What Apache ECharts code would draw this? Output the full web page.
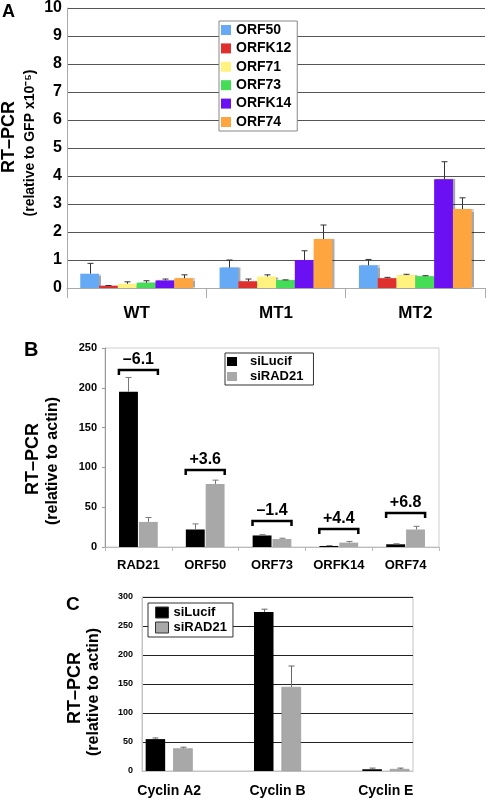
<!DOCTYPE html>
<html><head><meta charset="utf-8">
<script src="https://cdn.jsdelivr.net/npm/echarts@6/dist/echarts.min.js"></script>
<style>html,body{margin:0;padding:0;background:#fff}#c{width:486px;height:801px}</style>
</head><body><div id="c"></div>
<script>
// ---------- Panel A data ----------
const catsA = ['WT', 'MT1', 'MT2'];
const namesA = ['ORF50', 'ORFK12', 'ORF71', 'ORF73', 'ORFK14', 'ORF74'];
const colorsA = ['#66aaf6', '#e0302e', '#fff27e', '#44dd55', '#6a10f2', '#ffa53f'];
const orf50A = [0.51, 0.73, 0.81];
const orfk12A = [0.08, 0.24, 0.35];
const orf71A = [0.15, 0.41, 0.46];
const orf73A = [0.19, 0.28, 0.42];
const orfk14A = [0.27, 1.00, 3.88];
const orf74A = [0.35, 1.75, 2.82];
const orf50ErrA = [0.37, 0.27, 0.21];
const orfk12ErrA = [0.01, 0.08, 0.03];
const orf71ErrA = [0.07, 0.06, 0.03];
const orf73ErrA = [0.07, 0.01, 0.02];
const orfk14ErrA = [0.05, 0.33, 0.63];
const orf74ErrA = [0.12, 0.50, 0.40];
const yTicksA = [0, 1, 2, 3, 4, 5, 6, 7, 8, 9, 10];

// ---------- Panel B data ----------
const catsB = ['RAD21', 'ORF50', 'ORF73', 'ORFK14', 'ORF74'];
const siLucifB = [195, 22, 14.5, 1.3, 3.4];
const siLucifErrB = [18, 7, 1, 0.5, 0.7];
const siRad21B = [31.5, 79, 10, 5.5, 22];
const siRad21ErrB = [5.5, 5, 1, 1.5, 4];
const bracketYB = [222, 97, 33, 22, 43];
const bracketLabelsB = ['–6.1', '+3.6', '–1.4', '+4.4', '+6.8'];
const yTicksB = [0, 50, 100, 150, 200, 250];

// ---------- Panel C data ----------
const catsC = ['Cyclin A2', 'Cyclin B', 'Cyclin E'];
const siLucifC = [55, 274, 3];
const siLucifErrC = [2, 5, 2];
const siRad21C = [39, 145, 3.5];
const siRad21ErrC = [2, 36, 1.5];
const yTicksC = [0, 50, 100, 150, 200, 250, 300];

const valsA = [orf50A, orfk12A, orf71A, orf73A, orfk14A, orf74A];
const errsA = [orf50ErrA, orfk12ErrA, orf71ErrA, orf73ErrA, orfk14ErrA, orf74ErrA];

const FONT = "'Liberation Sans', Arial, Helvetica, sans-serif";

function errBar(n, idx, catGap, barGap, color, cap) {
  return function (params, api) {
    const cat = api.value(0), v = api.value(1), e = api.value(2);
    const base = api.coord([cat, v]);
    const top = api.coord([cat, v + e]);
    const band = api.size([1, 0])[0];
    const avail = band * (1 - catGap);
    const bw = avail / (n + (n - 1) * barGap);
    const x = Math.round(base[0] - avail / 2 + idx * bw * (1 + barGap) + bw / 2) + 0.5;
    return {
      type: 'group', children: [
        { type: 'line', shape: { x1: x, y1: base[1], x2: x, y2: top[1] }, style: { stroke: color, lineWidth: 1 } },
        { type: 'line', shape: { x1: x - cap, y1: top[1], x2: x + cap, y2: top[1] }, style: { stroke: color, lineWidth: 1 } }
      ]
    };
  };
}

const series = [];
const catGapA = 0.19, barGapA = 0;
namesA.forEach((nm, i) => {
  series.push({
    name: nm, type: 'bar', xAxisIndex: 0, yAxisIndex: 0,
    barCategoryGap: '19%', barGap: '0%',
    itemStyle: { color: colorsA[i], shadowColor: 'rgba(0,0,0,0.35)', shadowOffsetX: 2, shadowBlur: 1 },
    data: valsA[i], z: 2
  });
});
namesA.forEach((nm, i) => {
  series.push({
    name: 'errA' + i, type: 'custom', xAxisIndex: 0, yAxisIndex: 0, z: 5,
    renderItem: errBar(6, i, catGapA, barGapA, '#333', 3),
    data: catsA.map((c, k) => [k, valsA[i][k], errsA[i][k]])
  });
});

// Panel B
series.push({
  name: 'siLucif', type: 'bar', xAxisIndex: 1, yAxisIndex: 1,
  barCategoryGap: '42%', barGap: '5%', itemStyle: { color: '#000' }, data: siLucifB
});
series.push({
  name: 'siRAD21', type: 'bar', xAxisIndex: 1, yAxisIndex: 1,
  barCategoryGap: '42%', barGap: '5%', itemStyle: { color: '#a8a8a8' }, data: siRad21B
});
series.push({
  name: 'errB0', type: 'custom', xAxisIndex: 1, yAxisIndex: 1, z: 5,
  renderItem: errBar(2, 0, 0.42, 0.05, '#777', 3),
  data: catsB.map((c, k) => [k, siLucifB[k], siLucifErrB[k]])
});
series.push({
  name: 'errB1', type: 'custom', xAxisIndex: 1, yAxisIndex: 1, z: 5,
  renderItem: errBar(2, 1, 0.42, 0.05, '#777', 3),
  data: catsB.map((c, k) => [k, siRad21B[k], siRad21ErrB[k]])
});
series.push({
  name: 'bracketsB', type: 'custom', xAxisIndex: 1, yAxisIndex: 1, z: 6,
  renderItem: function (params, api) {
    const c = api.coord([api.value(0), api.value(1)]);
    const h = 19.5, y = Math.round(c[1]);
    return {
      type: 'group', children: [
        { type: 'polyline', shape: { points: [[c[0] - h, y + 5], [c[0] - h, y], [c[0] + h, y], [c[0] + h, y + 5]] },
          style: { stroke: '#000', lineWidth: 2.5, fill: null } },
        { type: 'text', style: { text: bracketLabelsB[params.dataIndex], x: c[0], y: y - 2, align: 'center', verticalAlign: 'bottom',
          font: 'bold 16px ' + FONT, fill: '#000' } }
      ]
    };
  },
  data: catsB.map((c, k) => [k, bracketYB[k]])
});

// Panel C (bars on grid 3)
series.push({
  name: 'siLucif', type: 'bar', xAxisIndex: 3, yAxisIndex: 3,
  barCategoryGap: '56.6%', barGap: '41%', itemStyle: { color: '#000' }, data: siLucifC
});
series.push({
  name: 'siRAD21', type: 'bar', xAxisIndex: 3, yAxisIndex: 3,
  barCategoryGap: '56.6%', barGap: '41%', itemStyle: { color: '#a8a8a8', borderColor: '#8a8a8a', borderWidth: 0.5 }, data: siRad21C
});
series.push({
  name: 'errC0', type: 'custom', xAxisIndex: 3, yAxisIndex: 3, z: 5,
  renderItem: errBar(2, 0, 0.566, 0.41, '#666', 3),
  data: catsC.map((c, k) => [k, siLucifC[k], siLucifErrC[k]])
});
series.push({
  name: 'errC1', type: 'custom', xAxisIndex: 3, yAxisIndex: 3, z: 5,
  renderItem: errBar(2, 1, 0.566, 0.41, '#666', 3),
  data: catsC.map((c, k) => [k, siRad21C[k], siRad21ErrC[k]])
});

const bold = (s) => ({ fontWeight: 'bold', fontSize: s, color: '#000', fontFamily: FONT });

const option = {
  animation: false,
  textStyle: { fontFamily: FONT },
  grid: [
    { left: 67, top: 5, width: 418, height: 283 },
    { left: 105, top: 348, width: 334, height: 199, show: true, borderColor: '#cfcfcf', borderWidth: 1 },
    { left: 142, top: 597, width: 271, height: 174, show: true, borderColor: '#c4c4c4', borderWidth: 1 },
    { left: 115, top: 597, width: 325, height: 174 }
  ],
  xAxis: [
    { type: 'category', gridIndex: 0, data: catsA,
      axisLine: { lineStyle: { color: '#aaa' } },
      axisTick: { show: true, length: 10, lineStyle: { color: '#aaa' } },
      axisLabel: Object.assign(bold(17), { margin: 17 }) },
    { type: 'category', gridIndex: 1, data: catsB,
      axisLine: { lineStyle: { color: '#bbb' } },
      axisTick: { show: true, length: 4, lineStyle: { color: '#bbb' } },
      axisLabel: Object.assign(bold(13), { margin: 12 }) },
    { type: 'category', gridIndex: 2, data: catsC,
      axisLine: { lineStyle: { color: '#c4c4c4' } }, axisTick: { show: false }, axisLabel: { show: false } },
    { type: 'category', gridIndex: 3, data: catsC,
      axisLine: { show: false }, axisTick: { show: false },
      axisLabel: Object.assign(bold(14), { margin: 13 }) }
  ],
  yAxis: [
    { type: 'value', gridIndex: 0, min: yTicksA[0], max: yTicksA[yTicksA.length - 1], interval: 1,
      axisLine: { show: true, lineStyle: { color: '#aaa' } }, axisTick: { show: false },
      splitLine: { lineStyle: { color: '#555', width: 1 } },
      axisLabel: Object.assign(bold(16), { margin: 5 }) },
    { type: 'value', gridIndex: 1, min: yTicksB[0], max: yTicksB[yTicksB.length - 1], interval: 50,
      axisLine: { show: true, lineStyle: { color: '#999' } },
      axisTick: { show: true, length: 3, lineStyle: { color: '#999' } },
      splitLine: { show: false },
      axisLabel: Object.assign(bold(11), { margin: 8 }) },
    { type: 'value', gridIndex: 2, min: yTicksC[0], max: yTicksC[yTicksC.length - 1], interval: 50,
      axisLine: { show: true, lineStyle: { color: '#c4c4c4' } }, axisTick: { show: false },
      splitLine: { lineStyle: { color: '#222', width: 1 } },
      axisLabel: Object.assign(bold(9), { margin: 9 }) },
    { type: 'value', gridIndex: 3, min: yTicksC[0], max: yTicksC[yTicksC.length - 1], interval: 50,
      show: false, splitLine: { show: false } }
  ],
  legend: [
    { data: namesA, orient: 'vertical', left: 219, top: 21, itemWidth: 10, itemHeight: 10, itemGap: 4.4,
      padding: [2, 6, 2, 2], backgroundColor: '#fff', borderColor: '#888', borderWidth: 1,
      icon: 'rect', textStyle: bold(14), selectedMode: false },
    { data: ['siLucif', 'siRAD21'], orient: 'vertical', left: 225, top: 353, itemWidth: 10, itemHeight: 9, itemGap: 2,
      padding: [2, 10, 2, 2], backgroundColor: '#fff', borderColor: '#333', borderWidth: 1,
      icon: 'rect', textStyle: Object.assign(bold(13), { padding: [0, 0, 0, 8] }), selectedMode: false },
    { data: ['siLucif', 'siRAD21'], orient: 'vertical', left: 148, top: 603, itemWidth: 13, itemHeight: 11, itemGap: 2,
      padding: [3, 6, 3, 7], backgroundColor: '#fff', borderColor: '#333', borderWidth: 1,
      icon: 'rect', itemStyle: { borderColor: '#333', borderWidth: 1 },
      textStyle: bold(13), selectedMode: false }
  ],
  graphic: [
    { type: 'text', left: 2, top: 3, style: { text: 'A', font: 'bold 18px ' + FONT, fill: '#000' } },
    { type: 'text', left: 24, top: 340, style: { text: 'B', font: 'bold 20px ' + FONT, fill: '#000' } },
    { type: 'text', left: 66, top: 595, style: { text: 'C', font: 'bold 19px ' + FONT, fill: '#000' } },
    { type: 'text', x: 9, y: 137, rotation: Math.PI / 2, style: { text: 'RT–PCR', font: 'bold 18px ' + FONT, fill: '#000', align: 'center', verticalAlign: 'middle' } },
    { type: 'text', x: 30, y: 143, rotation: Math.PI / 2, style: { text: '(relative to GFP x10⁻⁵)', font: 'bold 14px ' + FONT, fill: '#000', align: 'center', verticalAlign: 'middle' } },
    { type: 'text', x: 33, y: 459, rotation: Math.PI / 2, style: { text: 'RT–PCR', font: 'bold 18px ' + FONT, fill: '#000', align: 'center', verticalAlign: 'middle' } },
    { type: 'text', x: 53, y: 461, rotation: Math.PI / 2, style: { text: '(relative to actin)', font: 'bold 16px ' + FONT, fill: '#000', align: 'center', verticalAlign: 'middle' } },
    { type: 'text', x: 75, y: 688, rotation: Math.PI / 2, style: { text: 'RT–PCR', font: 'bold 18px ' + FONT, fill: '#000', align: 'center', verticalAlign: 'middle' } },
    { type: 'text', x: 94, y: 692, rotation: Math.PI / 2, style: { text: '(relative to actin)', font: 'bold 16px ' + FONT, fill: '#000', align: 'center', verticalAlign: 'middle' } }
  ],
  series: series
};

const chart = echarts.init(document.getElementById('c'), null, { renderer: 'canvas' });
chart.setOption(option);
</script>
</body></html>
